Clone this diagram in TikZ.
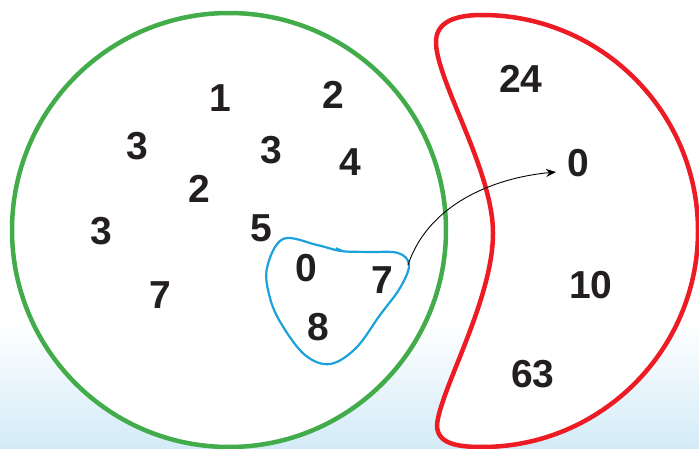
\documentclass[tikz,border=0pt]{standalone}
\usepackage{fontspec}
\setmainfont{Liberation Sans}
\usetikzlibrary{arrows.meta}
\definecolor{ggreen}{HTML}{43AC4A}
\definecolor{rred}{HTML}{ED1C24}
\definecolor{bblue}{HTML}{1BA1DC}
\definecolor{txt}{HTML}{231F20}
\definecolor{bgblue}{HTML}{D3EBF7}
\begin{document}
\begin{tikzpicture}[x=1pt,y=-1pt,
  num/.style={font=\fontsize{39}{39}\selectfont\bfseries, text=txt, inner sep=0pt},
  greenset/.style={draw=ggreen, line width=4.5pt, fill=white},
  redset/.style={draw=rred, line width=4.5pt, fill=white},
  blueset/.style={draw=bblue, line width=2.2pt},
  mapto/.style={draw=black, line width=0.9pt, -{Stealth[length=10pt,width=8pt]}}]
\useasboundingbox (0,0) rectangle (699,449);
% background
\fill[white] (0,0) rectangle (699,320);
\shade[top color=white, bottom color=bgblue] (0,320) rectangle (699,449);
% green set
\draw[greenset] (229,230) circle[radius=217];
% red set
\draw[redset] (482,15) .. controls (601,15) and (698,112) .. (698,231)
  .. controls (698,350) and (601,447) .. (482,447)
  .. controls (455,447) and (437,443) .. (437,425)
  .. controls (440,390) and (493,300) .. (493,233)
  .. controls (493,170) and (436,80) .. (436,42)
  .. controls (436,22) and (455,15) .. (482,15) -- cycle;
% blue subset
\draw[blueset] plot[smooth cycle, tension=0.6] coordinates {
  (283,239) (317,245) (341,251) (368,252) (398,253) (409,265)
  (400,288) (380,315) (356,348) (330,364) (305,355) (282,325)
  (270,298) (267,268)};
\draw[bblue, line width=1.6pt] (336,248) -- (343,251);
% numbers in green set
\node[num] (g1) at (220,98) {1};
\node[num] (g2a) at (333,95) {2};
\node[num] (g3a) at (137,146) {3};
\node[num] (g3b) at (271,150) {3};
\node[num] (g4) at (350,162) {4};
\node[num] (g2b) at (199,189) {2};
\node[num] (g3c) at (101,231) {3};
\node[num] (g5) at (261,228) {5};
\node[num] (g7a) at (160,295) {7};
% numbers in blue subset
\node[num] (b0) at (306,268) {0};
\node[num] (b7) at (382,280) {7};
\node[num] (b8) at (318,327) {8};
% numbers in red set
\node[num] (r24) at (521,79) {24};
\node[num] (r0) at (578,163) {0};
\node[num] (r10) at (591,285) {10};
\node[num] (r63) at (533,374) {63};
% arrow
\coordinate (astart) at (408,265);
\coordinate (aend) at (556,172);
\draw[mapto] (astart) .. controls (428,205) and (492,178) .. (aend);
\end{tikzpicture}
\end{document}
